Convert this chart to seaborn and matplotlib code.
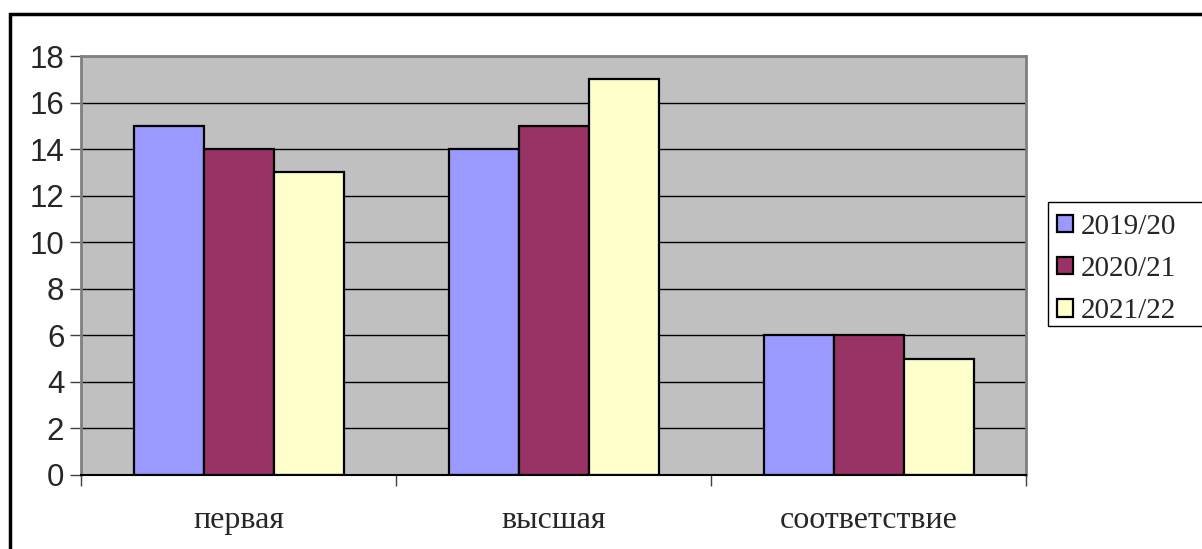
import matplotlib
matplotlib.use("Agg")
import matplotlib.pyplot as plt
import seaborn as sns
import pandas as pd
from matplotlib.patches import Rectangle, Patch
from matplotlib.ticker import FixedLocator

categories = ['первая', 'высшая', 'соответствие']
years = ['2019/20', '2020/21', '2021/22']
vals_2019 = [15, 14, 6]
vals_2020 = [14, 15, 6]
vals_2021 = [13, 17, 5]
colors = ['#9999FF', '#993366', '#FFFFCC']

df = pd.DataFrame({
    'cat': categories * 3,
    'year': [years[0]] * 3 + [years[1]] * 3 + [years[2]] * 3,
    'value': vals_2019 + vals_2020 + vals_2021,
})

sns.set_style('white')
plt.rcParams['font.family'] = ['Liberation Sans', 'DejaVu Sans']

W, H = 1202, 549
fig = plt.figure(figsize=(W / 100, H / 100), dpi=100)
ax = fig.add_axes([81 / W, 1 - 475 / H, (1026 - 81) / W, (475 - 56) / H])
ax.set_facecolor('#C0C0C0')

sns.barplot(data=df, x='cat', y='value', hue='year', order=categories,
            hue_order=years, palette=colors, width=2 / 3, gap=0,
            edgecolor='black', linewidth=1.6, saturation=1, legend=False, ax=ax)

ax.set_xlim(-0.5, 2.5)
ax.set_ylim(0, 18)
ax.set_yticks(range(0, 19, 2))
ax.yaxis.grid(True, color='black', linewidth=1)
ax.set_axisbelow(True)
ax.set_xlabel('')
ax.set_ylabel('')

ax.tick_params(axis='y', labelsize=22.5, length=8, width=1, pad=4, color='#404040',
               left=True, direction='out')
ax.tick_params(axis='x', which='major', length=0, pad=22)
ax.xaxis.set_minor_locator(FixedLocator([-0.5, 0.5, 1.5, 2.5]))
ax.tick_params(axis='x', which='minor', length=8, width=1, color='#404040', bottom=True,
               direction='out')
for lab in ax.get_xticklabels():
    lab.set_fontfamily(['Liberation Serif', 'DejaVu Serif'])
    lab.set_fontsize(23)

for side in ['top', 'right', 'left']:
    ax.spines[side].set_visible(True)
    ax.spines[side].set_color('#808080')
    ax.spines[side].set_linewidth(2)
ax.spines['bottom'].set_color('black')
ax.spines['bottom'].set_linewidth(1.5)

# legend (frame drawn separately, it runs off the right edge in the reference)
handles = [Patch(facecolor=c, edgecolor='black', linewidth=1.6) for c in colors]
leg = fig.legend(handles, years, loc='center left',
                 bbox_to_anchor=(1057 / W, 1 - 269 / H),
                 prop={'family': ['Liberation Serif', 'DejaVu Serif'], 'size': 21},
                 frameon=False, handlelength=0.55, handleheight=0.55,
                 handletextpad=0.27, labelspacing=0.55, borderpad=0, borderaxespad=0)
fig.patches.append(Rectangle((1048 / W, 1 - 326 / H), 0.2, 124 / H,
                             transform=fig.transFigure, fill=False,
                             edgecolor='black', linewidth=1))

# outer chart frame
fig.patches.append(Rectangle((10 / W, -0.1), 1.2, 1 - 14 / H + 0.1,
                             transform=fig.transFigure, fill=False,
                             edgecolor='black', linewidth=2.5))

fig.savefig('out.png', dpi=100)
